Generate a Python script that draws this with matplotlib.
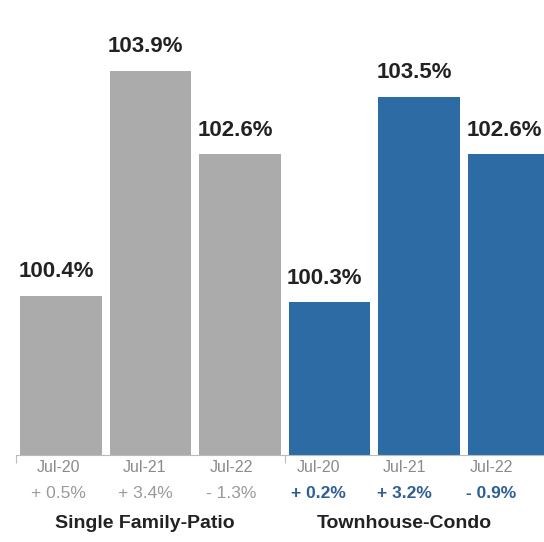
import matplotlib
matplotlib.use("Agg")
from matplotlib import pyplot as plt
import numpy as np

plt.rcParams['font.family'] = ['Liberation Sans', 'DejaVu Sans']

groups = ['Single Family-Patio', 'Townhouse-Condo']
dates = ['Jul-20', 'Jul-21', 'Jul-22']
sfp_values = [100.4, 103.9, 102.6]
tc_values = [100.3, 103.5, 102.6]
sfp_changes = ['+ 0.5%', '+ 3.4%', '- 1.3%']
tc_changes = ['+ 0.2%', '+ 3.2%', '- 0.9%']

gray = '#ababab'
blue = '#2d6ba5'

fig = plt.figure(figsize=(5.44, 5.42), dpi=100)
ax = fig.add_axes([16 / 544, (542 - 455) / 542, (544 - 16) / 544, 455 / 542])

values = sfp_values + tc_values
colors = [gray] * 3 + [blue] * 3
x = np.arange(len(values))
width = 0.91
ax.bar(x, values, width=width, color=colors, bottom=0)
ax.set_ylim(97.93, 105.0)
ax.set_xlim(-0.5, -0.5 + 528 / 89.6)

# value labels, left aligned on bar edge
for xi, v in zip(x, values):
    ax.annotate(f'{v:.1f}%', (xi - width / 2 - 0.02, v), xytext=(0, 17.5),
                textcoords='offset points', ha='left', va='center',
                fontsize=16, fontweight='bold', color='#222222')

for s in ['top', 'right', 'left']:
    ax.spines[s].set_visible(False)
ax.spines['bottom'].set_color('#bbbbbb')
ax.spines['bottom'].set_linewidth(0.8)
ax.set_yticks([])
ax.set_xticks([-0.5, 2.5])
ax.set_xticklabels([])
ax.tick_params(axis='x', length=6, color='#bbbbbb', width=0.8)

# category labels sit on a slightly tighter pitch than the bars
lx = -0.028 + 0.9665 * x

trans = ax.get_xaxis_transform()
for i in range(len(x)):
    ax.text(lx[i], -0.027, dates[i % 3], transform=trans, ha='center', va='center',
            fontsize=11.5, color='#8a8a8a')
    if i < 3:
        ax.text(lx[i], -0.084, sfp_changes[i], transform=trans, ha='center', va='center',
                fontsize=12.5, color='#9a9a9a')
    else:
        ax.text(lx[i], -0.084, tc_changes[i - 3], transform=trans, ha='center', va='center',
                fontsize=12.5, color='#2d5f94', fontweight='bold')

ax.text(lx[1], -0.15, groups[0], transform=trans, ha='center', va='center',
        fontsize=14, fontweight='bold', color='#222222')
ax.text(lx[4], -0.15, groups[1], transform=trans, ha='center', va='center',
        fontsize=14, fontweight='bold', color='#222222')

plt.savefig('out.png', dpi=100)
plt.close()
